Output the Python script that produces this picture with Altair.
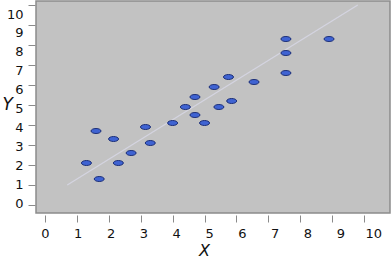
import altair as alt
import pandas as pd

# Scatter data
xs = [1.3, 1.6, 1.7, 2.15, 2.3, 2.7, 3.3, 3.15, 4.0, 4.4, 4.7, 4.7, 5.0, 5.3, 5.45, 5.75, 5.85, 6.55, 7.55, 7.55, 7.55, 8.9]
ys = [2.1, 3.7, 1.3, 3.3, 2.1, 2.6, 3.1, 3.9, 4.1, 4.9, 5.4, 4.5, 4.1, 5.9, 4.9, 6.4, 5.2, 6.15, 8.3, 7.6, 6.6, 8.3]

# Faint reference line endpoints
line_x = [0.7, 9.8]
line_y = [1.0, 10.0]

ticks = list(range(0, 11))

pts = pd.DataFrame({"X": xs, "Y": ys})
ln = pd.DataFrame({"X": line_x, "Y": line_y})

xscale = alt.Scale(domain=[-0.28, 10.81], nice=False, zero=False)
yscale = alt.Scale(domain=[-0.4, 10.2], nice=False, zero=False)

xaxis = alt.Axis(values=ticks, title="X", grid=False, domain=False,
                 tickColor="#8a8a8a", tickSize=7, offset=2,
                 labelFont="DejaVu Sans", labelFontSize=13, labelColor="#111",
                 labelPadding=5, labelFlush=False,
                 labelOffset=alt.ExprRef("datum.value * 0.9"),
                 titleFont="DejaVu Sans", titleFontSize=16, titleFontStyle="italic",
                 titleFontWeight="normal", titleColor="#111",
                 titleX=168, titleY=27, titleAlign="center", titleBaseline="top")
yaxis = alt.Axis(values=ticks, title="Y", grid=False, domain=False,
                 tickColor="#8a8a8a", tickSize=7, offset=1,
                 labelFont="DejaVu Sans", labelFontSize=13, labelColor="#111",
                 labelPadding=5, labelFlush=False,
                 labelOffset=alt.ExprRef("datum.value * 1.1 - 2"),
                 titleFont="DejaVu Sans", titleFontSize=17, titleFontStyle="italic",
                 titleFontWeight="normal", titleColor="#111", titleAngle=0,
                 titleX=-33, titleY=108, titleAlign="left", titleBaseline="alphabetic")

line = alt.Chart(ln).mark_line(color="#d4d4e0", strokeWidth=1.3).encode(
    x=alt.X("X:Q", scale=xscale, axis=xaxis),
    y=alt.Y("Y:Q", scale=yscale, axis=yaxis),
)

ellipse = "M -1 0 A 1 0.5 0 1 0 1 0 A 1 0.5 0 1 0 -1 0 Z"
points = alt.Chart(pts).mark_point(
    shape=ellipse, filled=True, size=100, fill="#3f63d2", stroke="#1c2f78",
    strokeWidth=1, opacity=1,
).encode(
    x=alt.X("X:Q", scale=xscale, axis=xaxis),
    y=alt.Y("Y:Q", scale=yscale, axis=yaxis),
)

chart = alt.layer(line, points).properties(
    width=354, height=212,
    padding={"left": 36, "top": 1, "right": 2, "bottom": 47},
    autosize=alt.AutoSizeParams(type="none"),
    background="white",
).configure_view(fill="#c2c2c2", stroke="#8c8c8c", strokeWidth=1.5)

chart.save("out.html", embed_options={"renderer": "svg", "actions": False})
